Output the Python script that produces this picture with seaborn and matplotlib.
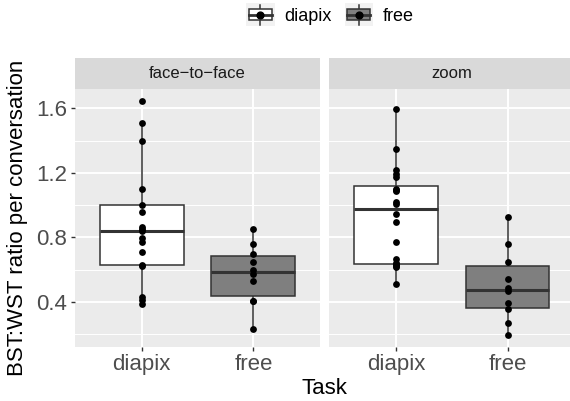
import numpy as np
import pandas as pd
import matplotlib
matplotlib.use("Agg")
import matplotlib.pyplot as plt
from matplotlib.patches import Rectangle, Patch
from matplotlib.lines import Line2D
from matplotlib.legend_handler import HandlerBase
from matplotlib.ticker import MultipleLocator
import seaborn as sns

plt.rcParams["font.family"] = ["Liberation Sans", "DejaVu Sans"]

# BST:WST ratio per conversation, by setting and task
settings = ["face\u2212to\u2212face", "zoom"]
tasks = ["diapix", "free"]

f2f_diapix = [1.645, 1.507, 1.399, 1.098, 0.999, 0.958, 0.863, 0.850, 0.838,
              0.795, 0.772, 0.712, 0.632, 0.625, 0.433, 0.410, 0.388]
f2f_free = [0.852, 0.759, 0.696, 0.650, 0.598, 0.575, 0.530, 0.408, 0.408, 0.233]
zoom_diapix = [1.594, 1.346, 1.218, 1.193, 1.173, 1.100, 1.094, 1.088, 1.021,
               1.007, 0.945, 0.898, 0.774, 0.668, 0.640, 0.634, 0.632, 0.625,
               0.615, 0.510]
zoom_free = [0.925, 0.758, 0.650, 0.543, 0.485, 0.470, 0.392, 0.355, 0.272, 0.196]

y_breaks = [0.4, 0.8, 1.2, 1.6]
y_title = "BST:WST ratio per conversation"
x_title = "Task"

groups = {
    (settings[0], tasks[0]): f2f_diapix,
    (settings[0], tasks[1]): f2f_free,
    (settings[1], tasks[0]): zoom_diapix,
    (settings[1], tasks[1]): zoom_free,
}
rows = []
for (setting, task), vals in groups.items():
    for v in vals:
        rows.append({"setting": setting, "Task": task, "ratio": v})
df = pd.DataFrame(rows)

fills = {"diapix": "#FFFFFF", "free": "#7F7F7F"}
DARK = "#333333"
PANEL = "#EBEBEB"
STRIP = "#D9D9D9"

W, H = 570, 401
fig = plt.figure(figsize=(W / 100, H / 100), dpi=100)

# panel geometry in pixels
p_top, p_bot = 89.3, 346.7
p_w = 245.6
lefts = [74.7, 329.0]
strip_top = 58.0

lo, hi = df["ratio"].min(), df["ratio"].max()
pad = (hi - lo) * 0.05
ylim = (lo - pad, hi + pad)

axes = []
for i, setting in enumerate(settings):
    ax = fig.add_axes([lefts[i] / W, 1 - p_bot / H, p_w / W, (p_bot - p_top) / H])
    sub = df[df["setting"] == setting]
    sns.boxplot(data=sub, x="Task", y="ratio", hue="Task", order=tasks,
                hue_order=tasks, palette=fills, width=0.75, showfliers=False,
                linecolor=DARK, linewidth=1.1, legend=False, ax=ax,
                medianprops={"linewidth": 2.2, "color": DARK},
                whiskerprops={"linewidth": 1.1, "color": DARK},
                capprops={"linewidth": 0})
    sns.stripplot(data=sub, x="Task", y="ratio", order=tasks, jitter=False,
                  color="black", size=4.9, linewidth=0, ax=ax, zorder=4)
    ax.set_facecolor(PANEL)
    ax.set_axisbelow(True)
    ax.set_ylim(*ylim)
    ax.set_xlim(-0.6, 1.6)
    ax.yaxis.set_major_locator(MultipleLocator(0.4))
    ax.yaxis.set_minor_locator(MultipleLocator(0.2))
    ax.grid(True, which="major", color="white", linewidth=1.4)
    ax.grid(True, which="minor", axis="y", color="white", linewidth=0.7)
    for s in ax.spines.values():
        s.set_visible(False)
    ax.set_xlabel("")
    ax.set_ylabel("")
    ax.tick_params(axis="both", which="major", length=3.2, width=1.0,
                   color=DARK, labelcolor="#4D4D4D", labelsize=16, pad=2)
    ax.tick_params(axis="y", which="minor", length=0)
    if i == 0:
        ax.set_yticks(y_breaks)
        ax.set_yticklabels([f"{b:.1f}" for b in y_breaks])
    else:
        ax.tick_params(axis="y", which="both", left=False, labelleft=False)
    axes.append(ax)

    # facet strip
    sax = fig.add_axes([lefts[i] / W, 1 - p_top / H, p_w / W, (p_top - strip_top) / H])
    sax.set_facecolor(STRIP)
    sax.set_xticks([])
    sax.set_yticks([])
    for s in sax.spines.values():
        s.set_visible(False)
    sax.text(0.5, 0.5, setting, ha="center", va="center", fontsize=12,
             color="#1A1A1A", transform=sax.transAxes)

fig.text(18 / W, 1 - (p_top + p_bot) / 2 / H, y_title, rotation=90,
         ha="center", va="center", fontsize=16, color="black")
fig.text((lefts[0] + lefts[1] + p_w) / 2 / W, 1 - 388 / H, x_title,
         ha="center", va="center", fontsize=16, color="black")


class BoxKey(HandlerBase):
    def create_artists(self, legend, orig_handle, xdescent, ydescent,
                       width, height, fontsize, trans):
        x0, y0 = -xdescent, -ydescent
        bg = Rectangle((x0, y0), width, height, facecolor="#F2F2F2",
                       edgecolor="none", transform=trans)
        cx, cy = x0 + width / 2, y0 + height / 2
        whisk = Line2D([cx, cx], [y0 + 0.07 * height, y0 + 0.93 * height],
                       color=DARK, linewidth=1.1, transform=trans)
        box = Rectangle((x0 + 0.1 * width, y0 + 0.27 * height), 0.8 * width,
                        0.46 * height, facecolor=orig_handle.get_facecolor(),
                        edgecolor=DARK, linewidth=1.1, transform=trans)
        med = Line2D([x0 + 0.1 * width, x0 + 0.9 * width], [cy, cy],
                     color=DARK, linewidth=2.0, transform=trans)
        pt = Line2D([cx], [cy], marker="o", markersize=4.9, color="black",
                    linestyle="none", transform=trans)
        return [bg, whisk, box, med, pt]


handles = [Patch(facecolor=fills[t], label=t) for t in tasks]
fig.legend(handles=handles, labels=tasks, loc="upper center",
           bbox_to_anchor=(330 / W, 1 - 3 / H), ncol=2, frameon=False,
           fontsize=13, handlelength=1.57, handleheight=1.6,
           handletextpad=0.55, columnspacing=0.7, borderpad=0,
           borderaxespad=0, handler_map={Patch: BoxKey()})

fig.savefig("out.png", dpi=100)
